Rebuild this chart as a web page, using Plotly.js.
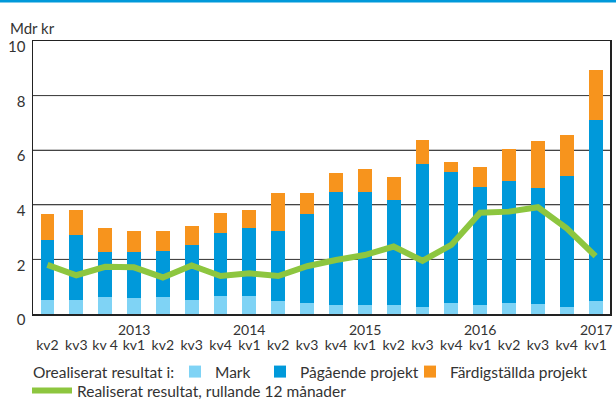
<!DOCTYPE html>
<html>
<head>
<meta charset="utf-8">
<script src="https://cdn.plot.ly/plotly-3.0.1.min.js"></script>
<style>
  html, body { margin: 0; padding: 0; background: #fff; }
  #chart { width: 616px; height: 400px; }
</style>
</head>
<body>
<div id="chart"></div>
<script>
// Kvartal (x-axelns etiketter)
var quarters = ['kv2', 'kv3', 'kv 4', 'kv1', 'kv2', 'kv3', 'kv4', 'kv1', 'kv2', 'kv3',
                'kv4', 'kv1', 'kv2', 'kv3', 'kv4', 'kv1', 'kv2', 'kv3', 'kv4', 'kv1'];
var years = ['2013', '2014', '2015', '2016', '2017'];
var yearAt = [3, 7, 11, 15, 19];
var yTicks = [0, 2, 4, 6, 8, 10];

// Orealiserat resultat, Mdr kr
var mark = [0.51, 0.51, 0.62, 0.59, 0.62, 0.51, 0.66, 0.66, 0.48, 0.40,
            0.34, 0.34, 0.34, 0.26, 0.40, 0.34, 0.40, 0.37, 0.26, 0.48];
var pagaende = [2.21, 2.38, 1.66, 1.69, 1.70, 2.02, 2.31, 2.49, 2.56, 3.26,
                4.13, 4.13, 3.84, 5.23, 4.80, 4.31, 4.47, 4.25, 4.79, 6.63];
var fardig = [0.94, 0.92, 0.87, 0.76, 0.72, 0.69, 0.73, 0.66, 1.39, 0.77,
              0.69, 0.84, 0.84, 0.88, 0.37, 0.73, 1.17, 1.72, 1.51, 1.83];

// Realiserat resultat, rullande 12 månader
var realiserat = [1.80, 1.42, 1.73, 1.71, 1.34, 1.78, 1.39, 1.49, 1.39, 1.75,
                  1.98, 2.16, 2.47, 1.95, 2.53, 3.71, 3.75, 3.91, 3.14, 2.12];

var x = quarters.map(function (q, i) { return i; });
var font = 'Lato, sans-serif';
var txt = '#333';

// plot area: 33..610 px wide, 41..314 px high -> paper coords helper
function py(p) { return (314 - p) / 273; }
function px(p) { return (p - 33) / 577; }

var data = [
    { type: 'bar', x: x, y: mark, name: 'Mark', marker: { color: '#7fd3f5' }, legend: 'legend' },
    { type: 'bar', x: x, y: pagaende, name: 'Pågående projekt', marker: { color: '#0099da' }, legend: 'legend3' },
    { type: 'bar', x: x, y: fardig, name: 'Färdigställda projekt', marker: { color: '#f7941d' }, legend: 'legend4' },
    {
        type: 'scatter', mode: 'lines', x: x, y: realiserat,
        name: 'Realiserat resultat, rullande 12 månader',
        line: { color: '#8dc63f', width: 6 }, legend: 'legend2'
    }
];

var annotations = years.map(function (yr, i) {
    return {
        text: yr, x: yearAt[i], xref: 'x', y: py(329), yref: 'paper',
        yanchor: 'middle', showarrow: false, font: { family: font, size: 14, color: txt }
    };
});
annotations.push({
    text: 'Mdr kr', x: px(8), xref: 'paper', xanchor: 'left', y: py(28), yref: 'paper',
    yanchor: 'middle', showarrow: false, font: { family: font, size: 15, color: txt }
});
annotations.push({
    text: 'Orealiserat resultat i:', x: px(31), xref: 'paper', xanchor: 'left',
    y: py(372), yref: 'paper', yanchor: 'middle',
    showarrow: false, font: { family: font, size: 15.5, color: txt }
});

// horisontella stödlinjer
var shapes = yTicks.slice(1, 5).map(function (v) {
    return {
        type: 'line', xref: 'paper', yref: 'y', x0: 0, x1: 1, y0: v, y1: v,
        layer: 'below', line: { color: '#444', width: 1 }
    };
});
// blå list överst
shapes.push({
    type: 'rect', xref: 'paper', yref: 'paper', x0: px(0), x1: px(616),
    y0: py(2.5), y1: py(0), fillcolor: '#0099da', line: { width: 0 }
});

function legendAt(left, centerY, width) {
    return {
        orientation: 'h', traceorder: 'normal',
        x: px(left), xanchor: 'left', y: py(centerY), yanchor: 'middle',
        font: { family: font, size: 15.5, color: txt },
        itemwidth: width, bgcolor: 'rgba(0,0,0,0)'
    };
}

var layout = {
    width: 616,
    height: 400,
    margin: { l: 33, r: 6, t: 41, b: 86, autoexpand: false },
    barmode: 'stack',
    bargap: 0.52,
    paper_bgcolor: '#fff',
    plot_bgcolor: '#fff',
    font: { family: font, size: 14, color: txt },
    xaxis: {
        tickmode: 'array',
        tickvals: x,
        ticktext: quarters,
        range: [-0.5, 19.5],
        showgrid: false,
        showline: true,
        linecolor: '#222',
        linewidth: 1.5,
        mirror: true,
        ticks: '',
        ticklabelstandoff: 18,
        automargin: false,
        tickfont: { family: font, size: 14, color: txt }
    },
    yaxis: {
        range: [0, 10],
        tickmode: 'array',
        tickvals: yTicks,
        showgrid: true,
        gridcolor: '#444',
        gridwidth: 1,
        showline: true,
        linecolor: '#222',
        linewidth: 1.5,
        mirror: true,
        zeroline: false,
        ticks: '',
        ticklabelshift: 6,
        ticklabelstandoff: 3,
        automargin: false,
        tickfont: { family: font, size: 15, color: txt }
    },
    showlegend: true,
    legend: legendAt(175, 372, 30),
    legend3: legendAt(260, 372, 30),
    legend4: legendAt(410, 372, 30),
    legend2: legendAt(27, 391, 40),
    annotations: annotations,
    shapes: shapes
};

Plotly.newPlot('chart', data, layout, { displayModeBar: false, staticPlot: true });
</script>
</body>
</html>
